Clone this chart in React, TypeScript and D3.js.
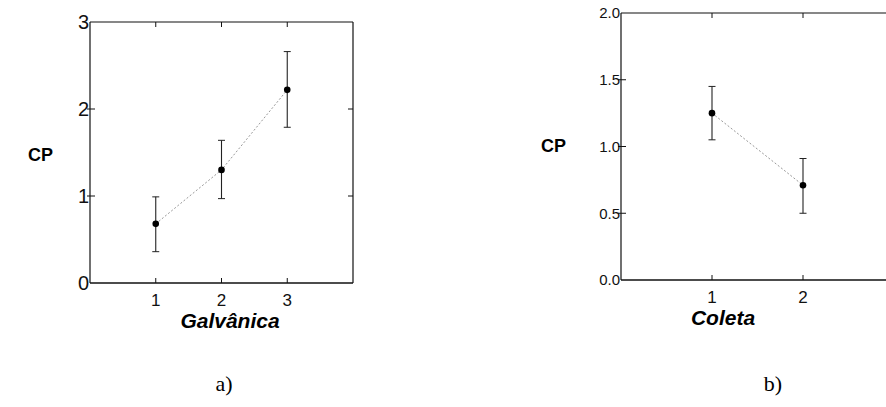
import React from "react";
import * as d3 from "d3";

// Panel a) — CP by Galvânica level
const galvLevels = [1, 2, 3];
const galvMean = [0.68, 1.3, 2.22];
const galvLow = [0.36, 0.97, 1.79];
const galvHigh = [0.99, 1.64, 2.66];
const galvYTicks = [0, 1, 2, 3];

// Panel b) — CP by Coleta level
const coletaLevels = [1, 2];
const coletaMean = [1.25, 0.71];
const coletaLow = [1.05, 0.5];
const coletaHigh = [1.45, 0.91];
const coletaYTicks = [0, 0.5, 1.0, 1.5, 2.0];

const W = 886;
const H = 407;
const SANS = "'Liberation Sans', Arial, sans-serif";
const SERIF = "'Liberation Serif', 'Times New Roman', serif";

type PanelProps = {
  levels: number[];
  mean: number[];
  low: number[];
  high: number[];
  yTicks: number[];
  xDomain: [number, number];
  yDomain: [number, number];
  xRange: [number, number];
  yRange: [number, number];
  yFmt: (v: number) => string;
  yFont: number;
  xFont: number;
  showRight: boolean;
  title: string;
  titleX: number;
  cpX: number;
  cpY: number;
  letter: string;
  letterX: number;
};

function Panel(p: PanelProps) {
  const x = d3.scaleLinear().domain(p.xDomain).range(p.xRange);
  const y = d3.scaleLinear().domain(p.yDomain).range(p.yRange);
  const [x0, x1] = p.xRange;
  const [yb, yt] = p.yRange;
  const pts = p.levels.map((l, i) => [x(l), y(p.mean[i])] as [number, number]);
  const line = d3.line()(pts) || "";
  const tk = 5;
  const cap = 3.5;
  return (
    <g>
      {/* frame */}
      <line x1={x0} y1={yb} x2={x0} y2={yt} stroke="#111" strokeWidth={1.2} />
      <line x1={x0} y1={yb} x2={x1} y2={yb} stroke="#111" strokeWidth={1.3} />
      <line x1={x0} y1={yt} x2={x1} y2={yt} stroke="#111" strokeWidth={1.2} />
      {p.showRight && (
        <line x1={x1} y1={yb} x2={x1} y2={yt} stroke="#111" strokeWidth={1.2} />
      )}
      {/* y ticks */}
      {p.yTicks.map((t) => (
        <g key={"y" + t}>
          {t !== p.yDomain[0] && t !== p.yDomain[1] && (
            <>
              <line x1={x0 - 3} x2={x0 + tk} y1={y(t)} y2={y(t)} stroke="#111" strokeWidth={1} />
              {p.showRight && (
                <line x1={x1 - tk} x2={x1} y1={y(t)} y2={y(t)} stroke="#111" strokeWidth={1} />
              )}
            </>
          )}
          <text
            x={x0 - 1}
            y={y(t)}
            dy="0.36em"
            textAnchor="end"
            fontFamily={SANS}
            fontSize={p.yFont}
            fill="#111"
          >
            {p.yFmt(t)}
          </text>
        </g>
      ))}
      {/* x ticks */}
      {p.levels.map((l) => (
        <g key={"x" + l}>
          <line x1={x(l)} x2={x(l)} y1={yb} y2={yb - tk} stroke="#111" strokeWidth={1} />
          <line x1={x(l)} x2={x(l)} y1={yt} y2={yt + tk} stroke="#111" strokeWidth={1} />
          <text
            x={x(l)}
            y={yb + 23}
            textAnchor="middle"
            fontFamily={SANS}
            fontSize={p.xFont}
            fill="#111"
          >
            {l}
          </text>
        </g>
      ))}
      {/* connecting line */}
      <path d={line} fill="none" stroke="#999" strokeWidth={1} strokeDasharray="2,2" />
      {/* error bars and means */}
      {p.levels.map((l, i) => (
        <g key={"e" + l}>
          <line x1={x(l)} x2={x(l)} y1={y(p.low[i])} y2={y(p.high[i])} stroke="#222" strokeWidth={1.1} />
          <line x1={x(l) - cap} x2={x(l) + cap} y1={y(p.high[i])} y2={y(p.high[i])} stroke="#222" strokeWidth={1} />
          <line x1={x(l) - cap} x2={x(l) + cap} y1={y(p.low[i])} y2={y(p.low[i])} stroke="#222" strokeWidth={1} />
          <circle cx={x(l)} cy={y(p.mean[i])} r={3.3} fill="#000" />
        </g>
      ))}
      {/* axis titles */}
      <text x={p.cpX} y={p.cpY} dy="0.36em" fontFamily={SANS} fontWeight="bold" fontSize={18} fill="#000">
        CP
      </text>
      <text
        x={p.titleX}
        y={yb + 45}
        textAnchor="middle"
        fontFamily={SANS}
        fontWeight="bold"
        fontStyle="italic"
        fontSize={21}
        fill="#000"
      >
        {p.title}
      </text>
      <text x={p.letterX} y={391} textAnchor="middle" fontFamily={SERIF} fontSize={22} fill="#000">
        {p.letter}
      </text>
    </g>
  );
}

export default function App() {
  return (
    <svg
      width={W}
      height={H}
      style={{ position: "absolute", left: 0, top: 0, background: "#fff" }}
    >
      <rect width={W} height={H} fill="#fff" />
      <Panel
        levels={galvLevels}
        mean={galvMean}
        low={galvLow}
        high={galvHigh}
        yTicks={galvYTicks}
        xDomain={[0, 4]}
        yDomain={[0, 3]}
        xRange={[90, 353]}
        yRange={[283, 22]}
        yFmt={(v) => String(v)}
        yFont={20}
        xFont={17}
        showRight={true}
        title="Galvânica"
        titleX={230}
        cpX={28}
        cpY={155}
        letter="a)"
        letterX={224}
      />
      <Panel
        levels={coletaLevels}
        mean={coletaMean}
        low={coletaLow}
        high={coletaHigh}
        yTicks={coletaYTicks}
        xDomain={[0, 3]}
        yDomain={[0, 2]}
        xRange={[621, 894]}
        yRange={[280, 13]}
        yFmt={(v) => v.toFixed(1)}
        yFont={15}
        xFont={17}
        showRight={false}
        title="Coleta"
        titleX={723}
        cpX={541}
        cpY={146}
        letter="b)"
        letterX={773}
      />
    </svg>
  );
}
